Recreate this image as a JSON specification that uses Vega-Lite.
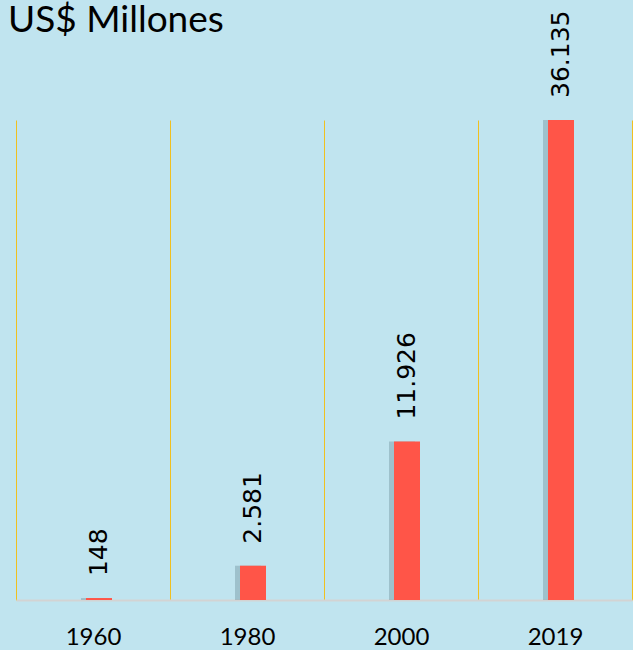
{
  "$schema": "https://vega.github.io/schema/vega-lite/v6.json",
  "autosize": "none",
  "width": 616,
  "height": 480,
  "padding": {"left": 16, "top": 120, "right": 1, "bottom": 50},
  "background": "#C0E4EF",
  "config": {
    "view": {"stroke": null},
    "locale": {"number": {"decimal": ",", "thousands": ".", "grouping": [3], "currency": ["$", ""]}}
  },
  "title": {
    "text": "US$ Millones",
    "anchor": "start",
    "frame": "group",
    "font": "Lato",
    "fontSize": 37,
    "fontWeight": "normal",
    "color": "#000000",
    "baseline": "alphabetic",
    "offset": 0,
    "dy": 58,
    "dx": -8
  },
  "data": {
    "values": [
      {"year": "1960", "value": 148},
      {"year": "1980", "value": 2581},
      {"year": "2000", "value": 11926},
      {"year": "2019", "value": 36135}
    ]
  },
  "encoding": {
    "x": {
      "field": "year",
      "type": "ordinal",
      "sort": null,
      "scale": {"paddingInner": 0, "paddingOuter": 0},
      "axis": {
        "title": null,
        "labelAngle": 0,
        "labelFont": "Lato",
        "labelFontSize": 24,
        "labelColor": "#000000",
        "labelPadding": 25,
        "ticks": false,
        "domainColor": "#D3D3D3",
        "domainWidth": 2,
        "grid": true,
        "gridColor": "#F0C020",
        "gridWidth": 1,
        "gridOpacity": 1,
        "tickBand": "extent"
      }
    },
    "y": {
      "field": "value",
      "type": "quantitative",
      "scale": {"domain": [0, 36135], "nice": false},
      "axis": null
    }
  },
  "layer": [
    {"mark": {"type": "bar", "width": 26, "color": "#4F6F7A", "opacity": 0.3, "xOffset": 1}},
    {"mark": {"type": "bar", "width": 26, "color": "#FF5548", "xOffset": 6}},
    {
      "mark": {
        "type": "text",
        "angle": 270,
        "align": "left",
        "baseline": "middle",
        "dx": 22,
        "xOffset": 6,
        "font": "DejaVu Sans",
        "fontSize": 25,
        "color": "#000000"
      },
      "encoding": {
        "text": {"field": "value", "type": "quantitative", "format": ",d"}
      }
    }
  ]
}
